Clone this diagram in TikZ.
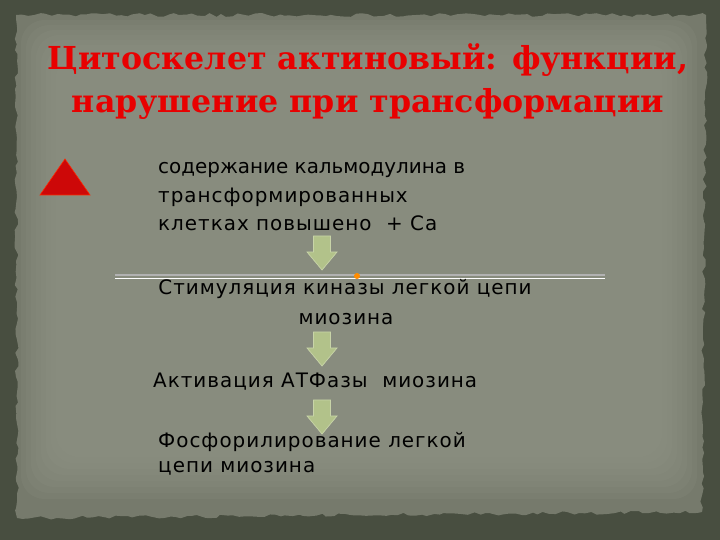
\documentclass[tikz,border=0pt]{standalone}
\usepackage{fontspec}
\setmainfont{DejaVu Serif}
\newfontfamily\handfont[LetterSpace=5]{DejaVu Sans}
\newfontfamily\handfontnarrow{DejaVu Sans}
\usetikzlibrary{decorations.pathmorphing}
\usetikzlibrary{positioning}

\definecolor{boardbg}{RGB}{72,78,64}
\definecolor{paperdark}{RGB}{118,122,108}
\definecolor{paperlight}{RGB}{146,149,136}
\definecolor{titlered}{RGB}{232,0,0}
\definecolor{arrowgreen}{RGB}{178,194,138}
\definecolor{arrowedge}{RGB}{200,212,168}
\definecolor{markerred}{RGB}{205,8,8}

\tikzset{
  titletext/.style={font=\bfseries\fontsize{27}{34}\selectfont, text=titlered, inner sep=0pt, anchor=base},
  bodytext/.style={font=\handfont\fontsize{17}{23}\selectfont, text=black, inner sep=0pt},
  pics/downarrow/.style={code={
    \filldraw[fill=arrowgreen, draw=arrowedge, line width=0.6pt]
      (-8.5,-17) -- (8.5,-17) -- (8.5,-1) -- (15,-1) -- (0,17) -- (-15,-1) -- (-8.5,-1) -- cycle;
  }}
}

\begin{document}
\begin{tikzpicture}[x=0.03cm, y=-0.03cm]
  \useasboundingbox (0,0) rectangle (720,540);
  \fill[boardbg] (0,0) rectangle (720,540);
  % torn paper
  \pgfmathsetseed{7}
  \fill[paperdark, decorate, decoration={random steps, segment length=5pt, amplitude=1.6pt}]
    (16,15) -- (706,15) -- (702,512) -- (17,518) -- cycle;
  \foreach \i in {1,...,8}
    \fill[paperlight, opacity=0.16, rounded corners=20pt] (16+5*\i,15+5*\i) rectangle (702-5*\i,505-6*\i);

  % title
  \node[titletext] (title1) at (368,70) {Цитоскелет актиновый: функции,};
  \node[titletext] (title2) at (368,113) {нарушение при трансформации};

  % marker
  \filldraw[fill=markerred, draw=red!70!orange, line width=0.5pt] (40,195) -- (90,195) -- (65,159) -- cycle;

  % steps
  \node[bodytext, font=\handfontnarrow\fontsize{17}{23}\selectfont, anchor=base west] (calm1) at (158,174) {содержание кальмодулина в};
  \node[bodytext, anchor=base west] (calm2) at (158,203) {трансформированных};
  \node[bodytext, anchor=base west] (calm3) at (158,231) {клетках повышено \ + Са};

  \draw[gray!60!white, line width=1.2pt] (115,275) -- (605,275);
  \draw[white, line width=0.6pt] (115,278) -- (605,278);
  \fill[orange!90!yellow] (357,276) circle (3);

  \node[bodytext, anchor=base] (kin1) at (345,295) {Стимуляция киназы легкой цепи};
  \node[bodytext, anchor=base] (kin2) at (346,325) {миозина};
  \node[bodytext, anchor=base west] (atp) at (153,388) {Активация АТФазы \ миозина};
  \node[bodytext, anchor=base west] (phos1) at (158,447) {Фосфорилирование легкой};
  \node[bodytext, anchor=base west] (phos2) at (158,472) {цепи миозина};

  \pic at (322,253) {downarrow};
  \pic at (322,349) {downarrow};
  \pic at (322,417) {downarrow};
\end{tikzpicture}
\end{document}
